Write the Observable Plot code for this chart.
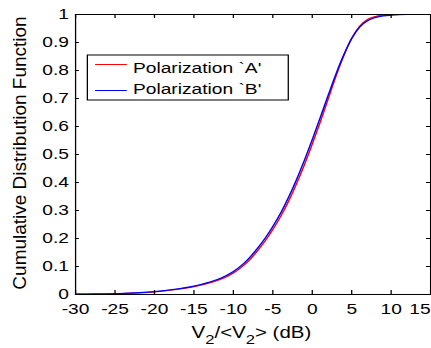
<!DOCTYPE html>
<html><head><meta charset="utf-8">
<script src="https://cdn.jsdelivr.net/npm/d3@7"></script>
<script src="https://cdn.jsdelivr.net/npm/@observablehq/plot@0.6"></script>
<style>
html,body{margin:0;padding:0;background:#fff;}
#chart{width:431px;height:348px;overflow:hidden;}
#chart svg{transform-origin:0 0;display:block;}
</style></head><body><div id="chart"></div>
<script>
// V2/<V2> in dB
const dbValues = [-30,-27.5,-25,-22.5,-20,-17.5,-15,-12.5,-11,-10,-9,-8,-7,-6,-5,-4,-3,-2,-1,0,1,2,3,4,5,6,7,8,9,10,11,12,13,15];
// CDF, polarization A (red)
const cdfA = [0.001,0.001,0.002,0.005,0.009,0.017,0.028,0.046,0.062,0.077,0.097,0.122,0.154,0.190,0.232,0.279,0.333,0.395,0.463,0.537,0.615,0.697,0.779,0.853,0.915,0.958,0.982,0.993,0.998,0.9995,1,1,1,1];
// CDF, polarization B (blue)
const cdfB = [0.001,0.002,0.003,0.006,0.010,0.018,0.030,0.049,0.066,0.082,0.103,0.130,0.163,0.200,0.243,0.291,0.347,0.410,0.479,0.553,0.631,0.710,0.787,0.856,0.914,0.955,0.978,0.989,0.995,0.998,0.9995,1,1,1];
const seriesNames = ["Polarization `A'", "Polarization `B'"];
const seriesColors = ["#ff0000", "#0000ff"];
const xTicks = [-30,-25,-20,-15,-10,-5,0,5,10,15];
const yTicks = [0,0.1,0.2,0.3,0.4,0.5,0.6,0.7,0.8,0.9,1];
const yLabel = "Cumulative Distribution Function";

const data = [];
dbValues.forEach((x, i) => {
  data.push({x, y: cdfA[i], s: seriesNames[0]});
  data.push({x, y: cdfB[i], s: seriesNames[1]});
});

const S = 1.279;            // horizontal stretch of the reference picture
const W = 431 / S, H = 348;
const mL = 58.6, mR = 0.8, mT = 14, mB = 54;
const innerW = W - mL - mR, innerH = H - mT - mB;
const font = "'Liberation Sans', Arial, Helvetica, sans-serif";
const lastTick = xTicks[xTicks.length - 1];

const plot = Plot.plot({
  width: W, height: H,
  marginLeft: mL, marginRight: mR, marginTop: mT, marginBottom: mB,
  style: {fontFamily: font, fontSize: "15px", color: "#000", background: "#fff", overflow: "visible"},
  x: {domain: [-30, 15], label: null},
  y: {domain: [0, 1], label: null},
  color: {domain: seriesNames, range: seriesColors},
  marks: [
    Plot.line(data, {x: "x", y: "y", z: "s", stroke: "s", strokeWidth: 1.2, curve: "monotone-x"}),
    Plot.axisX(xTicks.slice(0, -1), {anchor: "bottom", tickSize: 0, tickPadding: 9, tickFormat: d => String(d), label: null, fontSize: 15}),
    Plot.axisX([lastTick], {anchor: "bottom", tickSize: 0, tickPadding: 9, tickFormat: d => String(d), label: null, fontSize: 15, textAnchor: "end"}),
    Plot.axisY(yTicks, {anchor: "left", tickSize: 0, tickPadding: 5.2, tickFormat: d => String(+d.toFixed(1)), label: null, fontSize: 15}),
    Plot.tickX(xTicks, {x: d => d, insetTop: innerH - 4, stroke: "#000"}),
    Plot.tickX(xTicks, {x: d => d, insetBottom: innerH - 4, stroke: "#000"}),
    Plot.tickY(yTicks, {y: d => d, insetRight: innerW - 3.1, stroke: "#000"}),
    Plot.tickY(yTicks, {y: d => d, insetLeft: innerW - 3.1, stroke: "#000"}),
    Plot.frame({stroke: "#000", strokeWidth: 1})
  ]
});

plot.style.transform = `scaleX(${S})`;
document.getElementById("chart").appendChild(plot);
const svg = d3.select(plot);

// x label with subscripts
const xl = svg.append("text")
  .attr("x", (mL + W - mR) / 2 - 0.8).attr("y", 338)
  .attr("text-anchor", "middle")
  .style("font-family", font).style("font-size", "16px").attr("fill", "#000");
xl.append("tspan").text("V");
xl.append("tspan").attr("dy", 6).style("font-size", "13px").text("2");
xl.append("tspan").attr("dy", -6).text("/<V");
xl.append("tspan").attr("dy", 6).style("font-size", "13px").text("2");
xl.append("tspan").attr("dy", -6).text("> (dB)");

// y label (not stretched in the reference)
svg.append("text")
  .attr("transform", `translate(20.3,153) scale(${1 / S},1) rotate(-90)`)
  .attr("text-anchor", "middle")
  .style("font-family", font).style("font-size", "19px").attr("fill", "#000")
  .text(yLabel);

// legend
const lg = svg.append("g");
lg.append("rect").attr("x", 68.3).attr("y", 55).attr("width", 157.1).attr("height", 45)
  .attr("fill", "#fff").attr("stroke", "#000").attr("stroke-width", 1);
const rowsY = [64.5, 90.5], textY = [73.5, 94];
seriesNames.forEach((name, i) => {
  lg.append("line").attr("x1", 74.3).attr("x2", 99.1).attr("y1", rowsY[i]).attr("y2", rowsY[i])
    .attr("stroke", seriesColors[i]).attr("stroke-width", 1);
  lg.append("text").attr("x", 104).attr("y", textY[i]).attr("text-anchor", "start")
    .style("font-family", font).style("font-size", "15px").attr("fill", "#000").text(name);
});
</script></body></html>
